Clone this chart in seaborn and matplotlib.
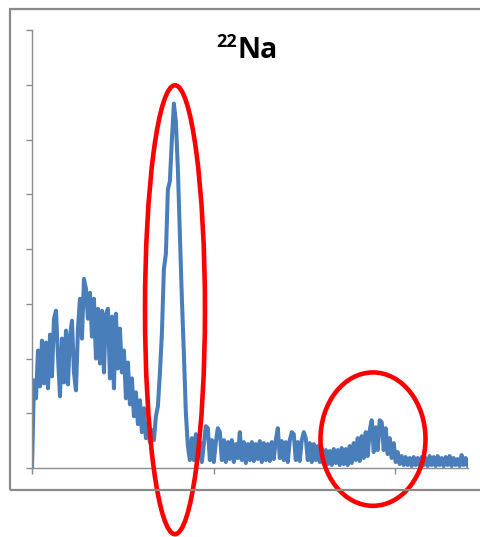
import numpy as np
import pandas as pd
import matplotlib
matplotlib.use("Agg")
import matplotlib.pyplot as plt
from matplotlib.patches import Ellipse, Rectangle
import seaborn as sns

# ---- data (counts per channel group) ----
counts = [
    0, 88, 70, 118, 82, 128, 85, 126, 80, 134,
    92, 150, 158, 112, 72, 130, 86, 138, 84, 132,
    148, 96, 78, 140, 170, 130, 190, 180, 150, 176,
    132, 170, 110, 160, 105, 158, 96, 155, 160, 90,
    152, 80, 155, 100, 140, 96, 118, 70, 106, 64,
    90, 52, 76, 44, 68, 36, 60, 30, 44, 26,
    38, 28, 52, 62, 95, 135, 200, 215, 280, 288,
    330, 366, 348, 300, 235, 170, 115, 55, 22, 8,
    30, 8, 34, 10, 26, 6, 24, 42, 40, 8,
    28, 6, 26, 40, 36, 8, 28, 6, 26, 9,
    28, 6, 24, 10, 36, 8, 26, 5, 24, 8,
    26, 7, 24, 9, 27, 6, 25, 8, 24, 7,
    26, 9, 28, 40, 10, 27, 8, 26, 6, 28,
    36, 34, 8, 26, 7, 28, 36, 30, 8, 25,
    6, 24, 8, 22, 6, 20, 4, 18, 4, 17,
    3, 19, 5, 18, 3, 20, 4, 19, 3, 22,
    5, 25, 8, 30, 7, 32, 10, 36, 12, 38,
    48, 16, 41, 18, 48, 46, 18, 40, 14, 30,
    10, 25, 6, 16, 4, 12, 3, 11, 3, 10,
    2, 11, 3, 10, 2, 11, 3, 10, 2, 12,
    3, 11, 2, 12, 3, 10, 2, 11, 3, 12,
    2, 10, 3, 9, 2, 13, 3, 10, 2,
]
channel_step = 11
channels = np.arange(len(counts)) * channel_step

title_mass = "22"
title_element = "Na"

x_ticks = [0, 1000, 2000]
y_ticks = list(range(0, 441, 55))

# annotation ellipses (data coordinates): (center_x, center_y, width, height)
annihilation_ellipse = (787, 159, 330, 451)
gamma1274_ellipse = (1877, 29, 578, 134)

df = pd.DataFrame({"channel": channels, "counts": counts})

sns.set_style("white")
plt.rcParams["font.family"] = ["Open Sans", "DejaVu Sans"]

W, H = 481, 537
fig = plt.figure(figsize=(W / 100, H / 100), dpi=100)
ax = fig.add_axes([32 / W, 1 - 468 / H, 436 / W, 438 / H])

sns.lineplot(data=df, x="channel", y="counts", ax=ax, color="#4A7EBB",
             linewidth=2.9, estimator=None, sort=False)

ax.set_xlim(0, 2400)
ax.set_ylim(0, 440)
ax.set_xticks(x_ticks)
ax.set_yticks(y_ticks)
ax.set_xticklabels([])
ax.set_yticklabels([])
ax.set_xlabel("")
ax.set_ylabel("")
for s in ["top", "right"]:
    ax.spines[s].set_visible(False)
for s in ["left", "bottom"]:
    ax.spines[s].set_color("#8c8c8c")
    ax.spines[s].set_linewidth(1.0)
ax.tick_params(axis="both", direction="out", length=4.5, width=1.0,
               color="#8c8c8c", left=True, bottom=True)

for (cx, cy, w, h) in [annihilation_ellipse, gamma1274_ellipse]:
    e = Ellipse((cx, cy), w, h, fill=False, edgecolor="#FF0000",
                linewidth=3.3, clip_on=False, zorder=5)
    ax.add_patch(e)

# figure border
fig.patches.append(Rectangle((10 / W, 1 - 490 / H), 1.2, (490 - 9) / H,
                             transform=fig.transFigure, fill=False,
                             edgecolor="#8a8a8a", linewidth=1.6, zorder=0))

fig.text(237 / W, 1 - 47 / H, title_mass, fontsize=13, fontweight="bold",
         ha="right", va="baseline", color="black")
fig.text(237.5 / W, 1 - 58 / H, title_element, fontsize=20.5, fontweight="bold",
         ha="left", va="baseline", color="black")

fig.savefig("out.png", dpi=100)
